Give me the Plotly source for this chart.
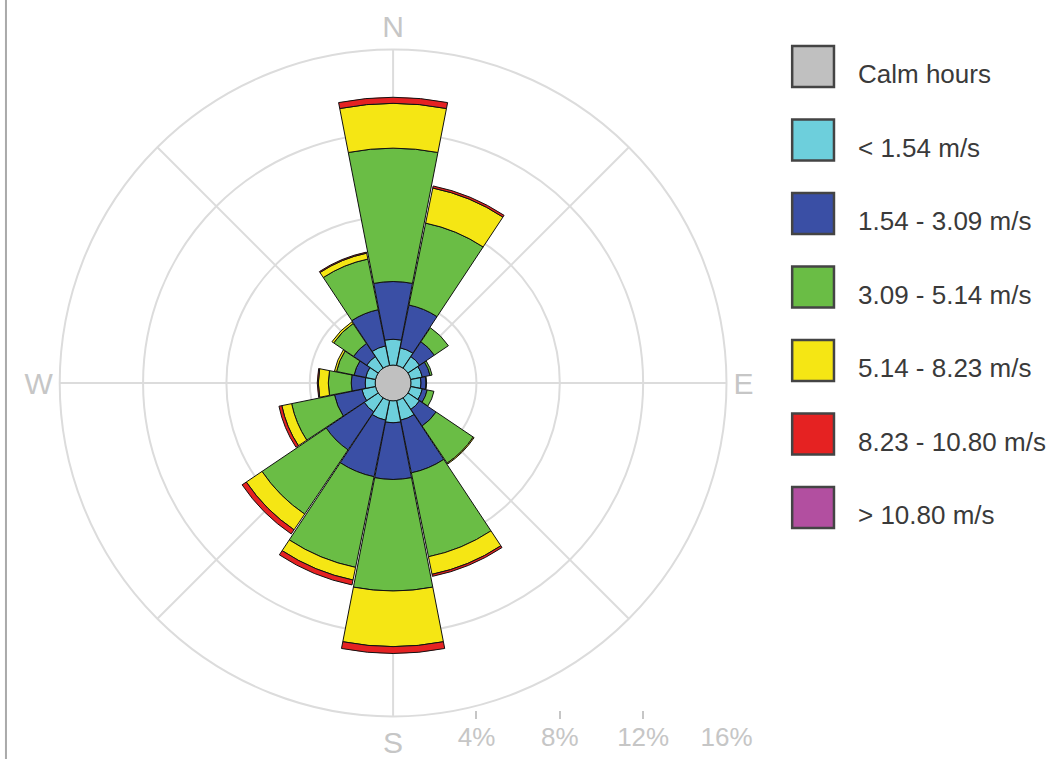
import plotly.graph_objects as go

directions = ["N", "NNE", "NE", "ENE", "E", "ESE", "SE", "SSE",
              "S", "SSW", "SW", "WSW", "W", "WNW", "NW", "NNW"]
angles = [0, 22.5, 45, 67.5, 90, 112.5, 135, 157.5,
          180, 202.5, 225, 247.5, 270, 292.5, 315, 337.5]

calm_pct = 0.86

# frequency (%) per speed class and direction
lt_1_54 = [1.24, 0.86, 0.67, 0.57, 0.48, 0.57, 0.67, 0.96,
           1.05, 0.96, 0.81, 0.67, 0.48, 0.48, 0.67, 0.96]
s_1_54_3_09 = [2.77, 2.10, 0.86, 0.38, 0.24, 0.24, 0.96, 2.58,
               2.72, 2.77, 2.20, 1.34, 0.67, 0.57, 0.76, 1.77]
s_3_09_5_14 = [6.40, 4.01, 0.81, 0.10, 0.03, 0.33, 2.15, 4.11,
               5.35, 4.44, 3.72, 2.10, 1.10, 0.86, 1.15, 2.48]
s_5_14_8_23 = [2.15, 1.72, 0.00, 0.00, 0.00, 0.00, 0.05, 0.86,
               2.67, 0.62, 0.91, 0.48, 0.48, 0.10, 0.10, 0.29]
s_8_23_10_80 = [0.29, 0.10, 0.00, 0.00, 0.00, 0.00, 0.00, 0.10,
                0.33, 0.24, 0.24, 0.14, 0.05, 0.00, 0.00, 0.05]
gt_10_80 = [0.0] * 16

series_names = ["< 1.54 m/s", "1.54 - 3.09 m/s", "3.09 - 5.14 m/s",
                "5.14 - 8.23 m/s", "8.23 - 10.80 m/s", "> 10.80 m/s"]
series_values = [lt_1_54, s_1_54_3_09, s_3_09_5_14, s_5_14_8_23, s_8_23_10_80, gt_10_80]
series_colors = ["#6dcfdc", "#3a4fa5", "#6abd45", "#f5e614", "#e52222", "#b24fa0"]

calm_name = "Calm hours"
calm_color = "#c0c0c0"

radial_ticks = [4, 8, 12, 16]
radial_ticktext = ["4%", "8%", "12%", "16%"]

W, H = 1062, 759
WX = 1041.0   # effective horizontal extent of the rendered paper
cx, cy, R = 395, 383, 335

fig = go.Figure()

# calm circle
fig.add_trace(go.Barpolar(
    r=[calm_pct], theta=[0], width=[360], base=0,
    marker=dict(color=calm_color, line=dict(color="#555555", width=1)),
    name=calm_name, showlegend=False, hoverinfo="skip"))

base = [calm_pct] * 16
for name, vals, col in zip(series_names, series_values, series_colors):
    fig.add_trace(go.Barpolar(
        r=vals, theta=angles, base=base, width=[22] * 16,
        marker=dict(color=col, line=dict(color="#111111", width=1)),
        name=name, showlegend=False))
    base = [b + v for b, v in zip(base, vals)]

# dummy cartesian trace for the percentage scale bar
fig.add_trace(go.Scatter(x=[None], y=[None], mode="markers", showlegend=False,
                         hoverinfo="skip", xaxis="x", yaxis="y"))

grid_col = "#dcdcdc"
lab_col = "#c6c6c6"

fig.update_layout(
    width=W, height=H, autosize=False,
    margin=dict(l=0, r=0, t=0, b=0),
    paper_bgcolor="white", plot_bgcolor="rgba(0,0,0,0)",
    font=dict(family="Liberation Sans, Arial, sans-serif"),
    showlegend=False,
    polar=dict(
        domain=dict(x=[(cx - R) / WX, (cx + R) / WX],
                    y=[(H - (cy + R)) / H, (H - (cy - R)) / H]),
        bgcolor="white",
        radialaxis=dict(range=[0, 16], tickvals=radial_ticks, showticklabels=False,
                        ticks="", showline=False, gridcolor=grid_col, gridwidth=2),
        angularaxis=dict(rotation=90, direction="clockwise",
                         tickmode="array",
                         tickvals=[0, 45, 90, 135, 180, 225, 270, 315],
                         ticktext=["N", "", "E", "", "S", "", "W", ""],
                         tickfont=dict(size=30, color=lab_col),
                         ticks="", showline=True, linecolor=grid_col, linewidth=2,
                         gridcolor=grid_col, gridwidth=2),
    ),
    xaxis=dict(domain=[cx / WX, (cx + R) / WX], range=[0, 16],
               tickvals=radial_ticks, ticktext=radial_ticktext,
               ticks="inside", ticklen=8, tickcolor=lab_col, tickwidth=2,
               tickfont=dict(size=26, color=lab_col),
               showline=False, showgrid=False, zeroline=False,
               anchor="free", position=(H - 719) / H, fixedrange=True),
    yaxis=dict(domain=[0, 1], visible=False, range=[0, 1], fixedrange=True),
)

# left border line
fig.add_shape(type="line", xref="paper", yref="paper",
              x0=6 / WX, x1=6 / WX, y0=0, y1=1,
              line=dict(color="#aaaaaa", width=2))

# manual legend with large swatches
leg_names = [calm_name] + series_names
leg_colors = [calm_color] + series_colors
top0 = 46
step = 73.5
for i, (nm, col) in enumerate(zip(leg_names, leg_colors)):
    y0 = top0 + i * step
    fig.add_shape(type="rect", xref="paper", yref="paper",
                  x0=796 / WX, x1=838 / WX,
                  y0=1 - (y0 + 41) / H, y1=1 - y0 / H,
                  fillcolor=col, line=dict(color="#444444", width=2.5))
    fig.add_annotation(xref="paper", yref="paper", x=860 / WX, y=1 - (y0 + 28) / H,
                       text=nm, showarrow=False, xanchor="left", yanchor="middle",
                       font=dict(size=26, color="#3a3a3a"))

post = "document.body.style.margin='0';document.body.style.overflow='hidden';"
fig.write_html("out.html", config={"responsive": False, "displayModeBar": False},
               post_script=post)
